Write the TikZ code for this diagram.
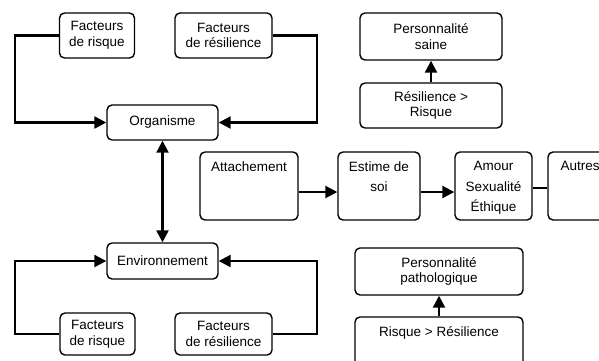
\documentclass[tikz,border=0pt]{standalone}
\usepackage{fontspec}
\setmainfont{Liberation Sans}
\usetikzlibrary{arrows.meta}
\begin{document}
\begin{tikzpicture}[x=1pt,y=-1pt,
  box/.style={draw, line width=1.4pt, rounded corners=5pt, align=center, inner sep=0pt,
    font=\fontsize{13.5}{15.5}\selectfont},
  conn/.style={line width=2.2pt},
  tri/.tip={Triangle[length=12pt,width=12pt]},
  tip/.style={-tri},
  toplab/.style={label={[anchor=north, align=center, yshift=-6.5pt, font=\fontsize{13.5}{20.5}\selectfont]north:#1}}
]
\useasboundingbox (0,0) rectangle (599,360);
% left cluster
\node[box, minimum width=75pt, minimum height=45pt] (rt) at (97,35.5) {Facteurs\\de risque};
\node[box, minimum width=97pt, minimum height=45pt] (rst) at (223.5,35.5) {Facteurs\\de résilience};
\node[box, minimum width=111pt, minimum height=35pt] (org) at (162.5,122.5) {Organisme};
\node[box, minimum width=111pt, minimum height=36pt] (env) at (162.5,261) {Environnement};
\node[box, minimum width=75pt, minimum height=42pt] (rb) at (97.5,334) {Facteurs\\de risque};
\node[box, minimum width=97pt, minimum height=42pt] (rsb) at (223.5,334) {Facteurs\\de résilience};
\coordinate (lx) at (15,0);
\coordinate (rx) at (317,0);
\draw[conn,tip] (rt.west) -- (rt.west -| lx) |- (org.west);
\draw[conn,tip] (rst.east) -- (rst.east -| rx) |- (org.east);
\draw[conn,tip] (rb.west) -- (rb.west -| lx) |- (env.west);
\draw[conn,tip] (rsb.east) -- (rsb.east -| rx) |- (env.east);
\draw[conn,tri-tri] (org.south) -- (env.north);
% right top
\node[box, minimum width=142pt, minimum height=47pt] (saine) at (431,36.5) {Personnalité\\saine};
\node[box, minimum width=142pt, minimum height=45pt] (rr) at (431,105.5) {Résilience >\\Risque};
\draw[conn,tip] (rr.north) -- (saine.south);
% middle row
\node[box, minimum width=98pt, minimum height=68pt, toplab={Attachement}] (att) at (249,186) {};
\node[box, minimum width=82pt, minimum height=68pt, toplab={Estime de\\soi}] (est) at (379,186) {};
\node[box, minimum width=77pt, minimum height=68pt, toplab={Amour\\Sexualité\\Éthique}] (amour) at (493.5,186) {};
\node[box, minimum width=64pt, minimum height=68pt, toplab={Autres}] (autres) at (580,186) {};
\draw[conn,tip] ([yshift=-6pt]att.east) -- ([yshift=-6pt]est.west);
\draw[conn,tip] ([yshift=-6pt]est.east) -- ([yshift=-6pt]amour.west);
\draw[conn] ([yshift=-2pt]amour.east) -- ([yshift=-2pt]autres.west);
% right bottom
\node[box, minimum width=168pt, minimum height=47pt] (path) at (439,271.5) {Personnalité\\pathologique};
\node[box, minimum width=168pt, minimum height=56pt, toplab={Risque > Résilience}] (rres) at (439,345) {};
\draw[conn,tip] (rres.north) -- (path.south);
\end{tikzpicture}
\end{document}
